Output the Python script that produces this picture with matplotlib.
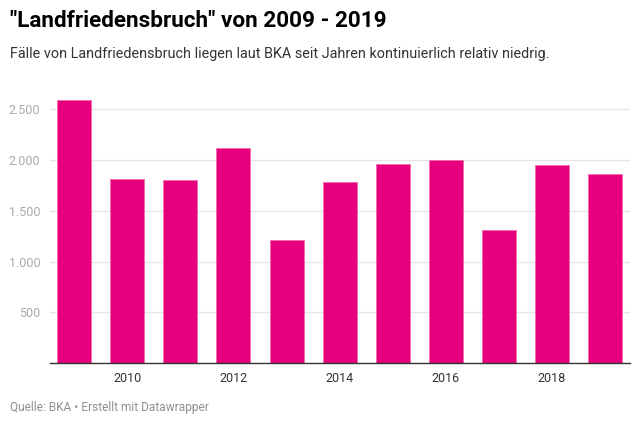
import matplotlib.pyplot as plt
from matplotlib.ticker import FuncFormatter

plt.rcParams['font.family'] = ['Roboto', 'DejaVu Sans']

years = [2009, 2010, 2011, 2012, 2013, 2014, 2015, 2016, 2017, 2018, 2019]
cases = [2588, 1814, 1805, 2118, 1210, 1785, 1962, 2006, 1317, 1951, 1863]
x_ticks = [2010, 2012, 2014, 2016, 2018]
y_ticks = [500, 1000, 1500, 2000, 2500]

fig = plt.figure(figsize=(6.4, 4.34), dpi=100)
ax = fig.add_axes([0.078, 0.163, 0.906, 0.62])

ax.bar(years, cases, width=0.64, color='#e6007e', edgecolor='#f06aae', linewidth=0.6, zorder=2)

ax.set_xlim(2008.54, 2019.47)
ax.set_ylim(0, 2650)
ax.set_xticks(x_ticks)
ax.set_yticks(y_ticks)
ax.yaxis.set_major_formatter(FuncFormatter(lambda v, p: f'{int(v):,}'.replace(',', '.')))
ax.grid(axis='y', color='#e6e6e6', linewidth=1, zorder=0)
ax.tick_params(axis='both', length=0)
ax.tick_params(axis='y', labelsize=9, labelcolor='#aaaaaa', pad=7)
ax.tick_params(axis='x', labelsize=9, labelcolor='#333333', pad=6)
for s in ['top', 'right', 'left']:
    ax.spines[s].set_visible(False)
ax.spines['bottom'].set_color('#333333')
ax.spines['bottom'].set_linewidth(1)
ax.spines['bottom'].set_zorder(3)

fig.text(10 / 640, 1 - 21 / 434, '"Landfriedensbruch" von 2009 - 2019', fontsize=16.2,
         fontweight='bold', color='#000000', va='center', ha='left')
fig.text(10 / 640, 1 - 54 / 434,
         'Fälle von Landfriedensbruch liegen laut BKA seit Jahren kontinuierlich relativ niedrig.',
         fontsize=10.4, color='#333333', va='center', ha='left')
fig.text(10 / 640, 1 - 407 / 434, 'Quelle: BKA • Erstellt mit Datawrapper', fontsize=8.6,
         color='#909090', va='center', ha='left')

fig.savefig('out.png', dpi=100, facecolor='white')
